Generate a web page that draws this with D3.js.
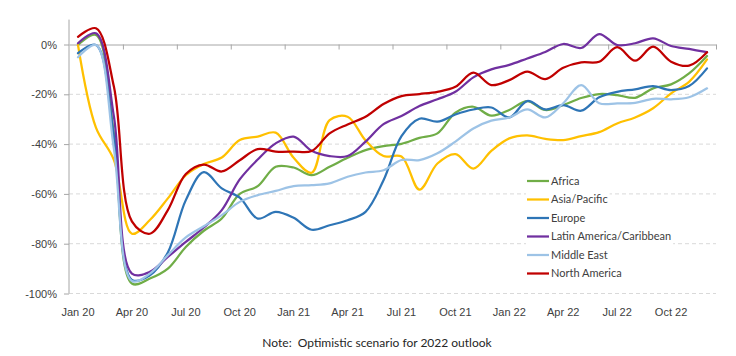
<!DOCTYPE html>
<html>
<head>
<meta charset="utf-8">
<script src="https://cdn.jsdelivr.net/npm/d3@7"></script>
<style>
  html, body { margin: 0; padding: 0; background: #fff; }
  svg { display: block; font-family: Lato, "Open Sans", sans-serif; }
</style>
</head>
<body>
<svg id="chart" width="736" height="356"></svg>
<script>
// ---------------- DATA ----------------
const months = [
  "Jan 20","Feb 20","Mar 20","Apr 20","May 20","Jun 20","Jul 20","Aug 20","Sep 20","Oct 20","Nov 20","Dec 20",
  "Jan 21","Feb 21","Mar 21","Apr 21","May 21","Jun 21","Jul 21","Aug 21","Sep 21","Oct 21","Nov 21","Dec 21",
  "Jan 22","Feb 22","Mar 22","Apr 22","May 22","Jun 22","Jul 22","Aug 22","Sep 22","Oct 22","Nov 22","Dec 22"
];
const tickLabels = ["Jan 20","Apr 20","Jul 20","Oct 20","Jan 21","Apr 21","Jul 21","Oct 21","Jan 22","Apr 22","Jul 22","Oct 22"];
const yTicks = [-100, -80, -60, -40, -20, 0];

const seriesNames = ["Africa","Asia/Pacific","Europe","Latin America/Caribbean","Middle East","North America"];
const seriesColors = ["#70AD47","#FFC000","#2E75B6","#7030A0","#9DC3E6","#C00000"];

const africa = [-0.2, 3.8, -36, -96, -94, -90, -81.3, -74.8, -69.9, -60, -56.9, -49.1,
  -49.4, -52.5, -49.1, -45.5, -42.4, -40.8, -39.9, -37.5, -35.7, -27.4, -25, -28.6,
  -26.3, -22.7, -26.3, -24.3, -21.5, -19.9, -20.3, -21.4, -17.6, -16, -11.6, -4.6];
const asiaPacific = [-0.2, -33.4, -46.4, -76, -70.5, -61.8, -52.5, -48, -45.4, -38.4, -37, -35.4,
  -45.5, -51.5, -30.4, -29, -38.5, -44.8, -45, -58.3, -47.8, -44, -49.8, -42.7,
  -37.7, -36.5, -37.9, -38.4, -36.8, -35.2, -31.7, -29.3, -25.6, -19.6, -15, -6];
const europe = [-3.5, -0.2, -37, -94.5, -92.7, -83.5, -62.5, -51.3, -57.8, -61.5, -69.9, -67.2,
  -69.6, -74.4, -72.6, -70.6, -67.2, -54.5, -36.8, -29.8, -31, -28.1, -26.1, -25.3,
  -29.3, -22.7, -26.1, -24.3, -26.6, -21.2, -19, -18, -16.7, -18.3, -16.7, -9.6];
const latinAmerica = [0.5, 4.5, -29, -92, -91.3, -85.3, -79.3, -73.5, -66.5, -54.2, -46.2, -39.7,
  -37, -42.7, -44.8, -44.8, -39, -32, -28.7, -24.7, -22, -19, -13.2, -10,
  -8.2, -5.6, -3, 0.2, -1.4, 4.2, -0.2, 0.5, 2.5, -0.6, -1.8, -3.1];
const middleEast = [-5.1, -0.2, -42, -95, -92, -84.6, -77.5, -73, -68.5, -63.2, -60.5, -58.8,
  -56.9, -56.5, -55.8, -53.1, -51.4, -50.5, -46.4, -46.4, -43.7, -39, -33.7, -30.6,
  -29.3, -26.1, -29.3, -23.6, -16.3, -23.6, -23.6, -23.4, -21.8, -22, -21.2, -17.6];
const northAmerica = [3.1, 6.5, -17, -71, -76, -66.5, -52, -48.2, -51, -46.5, -42, -43,
  -43, -42.8, -35.7, -32.1, -29, -23.9, -20.7, -19.9, -19, -17, -11.3, -16.3,
  -14.3, -10.9, -13.9, -9.3, -7.2, -6.9, -1.1, -6.5, -0.9, -6.9, -8.5, -3.1];

const seriesValues = [africa, asiaPacific, europe, latinAmerica, middleEast, northAmerica];
const noteText = "Note:  Optimistic scenario for 2022 outlook";

// ---------------- CHART ----------------
const svg = d3.select("#chart");
const plot = { left: 69, right: 716, top: 19.6, bottom: 293.5 };

const x = d3.scaleBand().domain(months).range([plot.left, plot.right]).padding(0);
const xEdge = d3.scaleLinear().domain([0, months.length]).range([plot.left, plot.right]);
const y = d3.scaleLinear().domain([-100, 10]).range([plot.bottom, plot.top]);

const axisColor = "#A6A6A6";
const textColor = "#404040";

// gridlines (dashed)
svg.append("g")
  .selectAll("line")
  .data(yTicks.filter(d => d !== 0))
  .join("line")
  .attr("x1", plot.left).attr("x2", plot.right)
  .attr("y1", d => y(d)).attr("y2", d => y(d))
  .attr("stroke", "#D9D9D9").attr("stroke-width", 1)
  .attr("stroke-dasharray", "4,3");

// y axis
const yAxisG = svg.append("g")
  .attr("transform", `translate(${plot.left},0)`)
  .call(d3.axisLeft(y).tickValues(yTicks).tickSize(5).tickSizeOuter(0).tickPadding(7)
    .tickFormat(d => d + "%"));
yAxisG.select(".domain").attr("stroke", axisColor).attr("d", `M0,${plot.top}V${plot.bottom}`);
yAxisG.selectAll(".tick line").attr("stroke", axisColor);
yAxisG.selectAll("text").attr("fill", textColor).style("font-size", "11px");

// x axis line at 0% with tick marks between quarters
const xAxisG = svg.append("g")
  .attr("transform", `translate(0,${y(0)})`)
  .call(d3.axisBottom(xEdge).tickValues(d3.range(3, months.length + 1, 3)).tickSize(5)
    .tickSizeOuter(0).tickFormat(""));
xAxisG.select(".domain").attr("stroke", axisColor);
xAxisG.selectAll(".tick line").attr("stroke", axisColor);

// x labels at bottom
const xLabG = svg.append("g")
  .attr("transform", `translate(0,${plot.bottom + 12})`)
  .call(d3.axisBottom(x).tickValues(tickLabels).tickSize(0).tickPadding(3));
xLabG.select(".domain").remove();
xLabG.selectAll("text").attr("fill", textColor).style("font-size", "11px");

// lines
const line = d3.line()
  .x((d, i) => x(months[i]) + x.bandwidth() / 2)
  .y(d => y(d))
  .curve(d3.curveCatmullRom.alpha(0.5));

svg.append("g")
  .selectAll("path")
  .data(seriesValues)
  .join("path")
  .attr("d", d => line(d))
  .attr("fill", "none")
  .attr("stroke", (d, i) => seriesColors[i])
  .attr("stroke-width", 2.25)
  .attr("stroke-linejoin", "round")
  .attr("stroke-linecap", "round");

// legend
const legend = svg.append("g").attr("transform", "translate(527,181)");
const rowH = 18.5;
const items = legend.selectAll("g").data(seriesNames).join("g")
  .attr("transform", (d, i) => `translate(0,${i * rowH})`);
const bg = items.append("rect").attr("fill", "#fff").attr("y", -rowH / 2).attr("height", rowH);
items.append("line").attr("x1", 0).attr("x2", 22).attr("y1", 0).attr("y2", 0)
  .attr("stroke", (d, i) => seriesColors[i]).attr("stroke-width", 2.25);
items.append("text").attr("x", 24).attr("y", 0).attr("dy", "0.35em")
  .attr("fill", textColor).style("font-size", "11px").text(d => d);
items.each(function() {
  const g = d3.select(this);
  const w = g.select("text").node().getComputedTextLength();
  g.select("rect").attr("x", -1).attr("width", 24 + w + 3);
});

// note
svg.append("text")
  .attr("x", 377).attr("y", 347)
  .attr("text-anchor", "middle")
  .attr("fill", "#262626")
  .style("font-size", "12px")
  .style("white-space", "pre")
  .attr("xml:space", "preserve")
  .text(noteText);
</script>
</body>
</html>
